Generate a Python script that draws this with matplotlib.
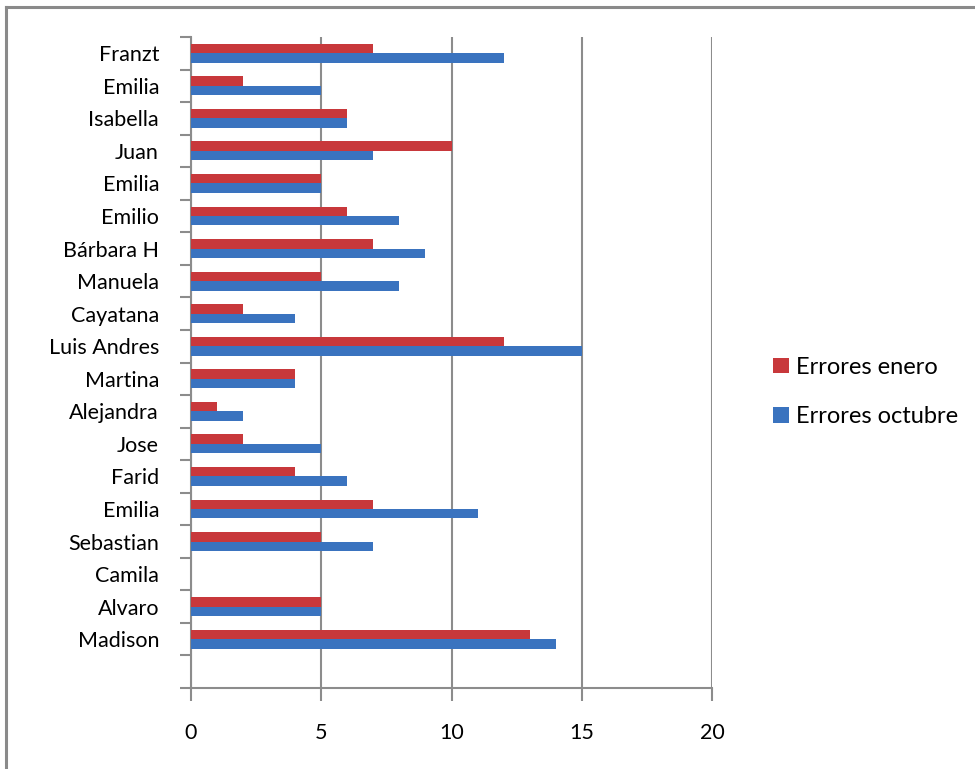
import matplotlib
matplotlib.use("Agg")
import matplotlib.pyplot as plt
import numpy as np
from matplotlib.patches import Patch
from matplotlib.lines import Line2D

plt.rcParams['font.family'] = ['Lato', 'DejaVu Sans']

# Data, bottom to top
names = ["Madison", "Alvaro", "Camila", "Sebastian", "Emilia", "Farid", "Jose",
         "Alejandra", "Martina", "Luis Andres", "Cayatana", "Manuela", "Bárbara H",
         "Emilio", "Emilia", "Juan", "Isabella", "Emilia", "Franzt"]
errores_enero = [13, 5, 0, 5, 7, 4, 2, 1, 4, 12, 2, 5, 7, 6, 5, 10, 6, 2, 7]
errores_octubre = [14, 5, 0, 7, 11, 6, 5, 2, 4, 15, 4, 8, 9, 8, 5, 7, 6, 5, 12]
xticks = [0, 5, 10, 15, 20]

red = '#C8383B'
blue = '#3A73BF'
grid_c = '#8C8C8C'

fig = plt.figure(figsize=(9.75, 7.69), dpi=100)
ax = fig.add_axes([191/975, 1-688/769, (712-191)/975, (688-37)/769])

pos = np.arange(1, len(names) + 1)
w = 0.29
ax.barh(pos + w/2, errores_enero, height=w, color=red, zorder=3, label='Errores enero')
ax.barh(pos - w/2, errores_octubre, height=w, color=blue, zorder=3, label='Errores octubre')

ax.set_xlim(0, 20)
ax.set_ylim(-0.5, len(names) + 0.5)
ax.set_xticks(xticks)
ax.set_xticklabels([str(t) for t in xticks], fontsize=15.5)
ax.set_yticks(pos)
ax.set_yticklabels(names, fontsize=15.5)
ax.set_yticks(np.arange(-0.5, len(names) + 1), minor=True)
ax.tick_params(axis='y', which='major', length=0, pad=23)
ax.tick_params(axis='y', which='minor', length=8, width=1.5, color=grid_c, direction='out')
ax.tick_params(axis='x', which='major', length=9, width=1.5, color=grid_c, direction='out', pad=16)

ax.grid(axis='x', color=grid_c, linewidth=1.5, zorder=0)
ax.set_axisbelow(True)
for s in ['top', 'right']:
    ax.spines[s].set_visible(False)
for s in ['left', 'bottom']:
    ax.spines[s].set_color(grid_c)
    ax.spines[s].set_linewidth(1.5)

handles = [Patch(facecolor=red), Patch(facecolor=blue)]
fig.legend(handles, ['Errores enero', 'Errores octubre'], loc='center left',
           bbox_to_anchor=(752/975, 1-392/769), frameon=False, fontsize=17,
           handlelength=0.65, handleheight=0.65, handletextpad=0.3, labelspacing=1.2)

# Outer frame: only top and left edges are visible in the reference
fig.add_artist(Line2D([6/975, 1.0], [1-7/769, 1-7/769], transform=fig.transFigure,
                      color='#8A8A8A', linewidth=2.2))
fig.add_artist(Line2D([6/975, 6/975], [0.0, 1-7/769], transform=fig.transFigure,
                      color='#8A8A8A', linewidth=2.2))

fig.savefig('out.png', dpi=100)
